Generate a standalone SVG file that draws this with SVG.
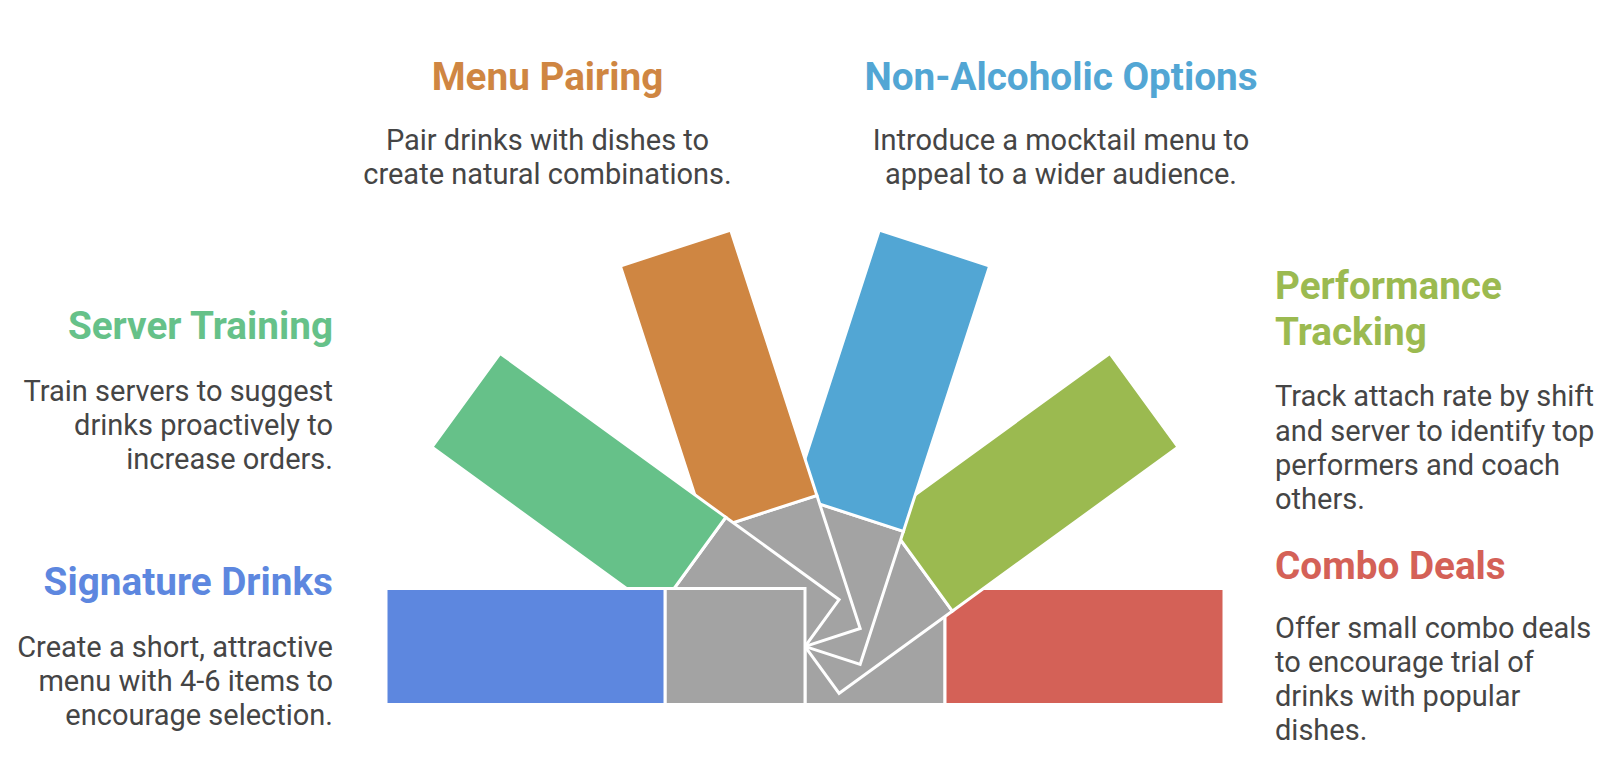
<svg xmlns="http://www.w3.org/2000/svg" width="1624" height="760" viewBox="0 0 1624 760">
<style>
.g{fill:#a3a3a3;stroke:#fff;stroke-width:3}
.c{stroke:#fff;stroke-width:3}
.t{font-family:Roboto,"Liberation Sans",sans-serif;font-weight:700;font-size:38.7px}
.b{font-family:Roboto,"Liberation Sans",sans-serif;font-size:29px;fill:#454545}
</style>
<rect width="1624" height="760" fill="#fff"/>
<g id="fan">
<g id="arm-combo" transform="translate(805,646.5) rotate(0)"><rect class="g" x="0" y="-58" width="140" height="116"/><rect class="c" x="140" y="-58" width="279" height="116" fill="#d46157"/></g>
<g id="arm-performance" transform="translate(805,646.5) rotate(-36)"><rect class="g" x="0" y="-58" width="140" height="116"/><rect class="c" x="140" y="-58" width="279" height="116" fill="#9bba50"/></g>
<g id="arm-nonalcoholic" transform="translate(805,646.5) rotate(-72)"><rect class="g" x="0" y="-58" width="140" height="116"/><rect class="c" x="140" y="-58" width="279" height="116" fill="#52a6d4"/></g>
<g id="arm-menu" transform="translate(805,646.5) rotate(-108)"><rect class="g" x="0" y="-58" width="140" height="116"/><rect class="c" x="140" y="-58" width="279" height="116" fill="#cf8642"/></g>
<g id="arm-server" transform="translate(805,646.5) rotate(-144)"><rect class="g" x="0" y="-58" width="140" height="116"/><rect class="c" x="140" y="-58" width="279" height="116" fill="#66c189"/></g>
<g id="arm-signature" transform="translate(805,646.5) rotate(-180)"><rect class="g" x="0" y="-58" width="140" height="116"/><rect class="c" x="140" y="-58" width="279" height="116" fill="#5d87df"/></g>
</g>
<g id="label-server" text-anchor="end">
<text class="t" x="333" y="339" fill="#66c189">Server Training</text>
<text class="b" x="333" y="401">Train servers to suggest</text>
<text class="b" x="333" y="435">drinks proactively to</text>
<text class="b" x="333" y="469">increase orders.</text>
</g>
<g id="label-signature" text-anchor="end">
<text class="t" x="333" y="595" fill="#5d87df">Signature Drinks</text>
<text class="b" x="333" y="657">Create a short, attractive</text>
<text class="b" x="333" y="691">menu with 4-6 items to</text>
<text class="b" x="333" y="725">encourage selection.</text>
</g>
<g id="label-menu" text-anchor="middle">
<text class="t" x="547.5" y="90" fill="#cf8642">Menu Pairing</text>
<text class="b" x="547.5" y="150">Pair drinks with dishes to</text>
<text class="b" x="547.5" y="184">create natural combinations.</text>
</g>
<g id="label-nonalcoholic" text-anchor="middle">
<text class="t" x="1061" y="90" fill="#52a6d4">Non-Alcoholic Options</text>
<text class="b" x="1061" y="150">Introduce a mocktail menu to</text>
<text class="b" x="1061" y="184">appeal to a wider audience.</text>
</g>
<g id="label-performance">
<text class="t" x="1275" y="299" fill="#9bba50">Performance</text>
<text class="t" x="1275" y="345" fill="#9bba50">Tracking</text>
<text class="b" x="1275" y="406">Track attach rate by shift</text>
<text class="b" x="1275" y="440.5">and server to identify top</text>
<text class="b" x="1275" y="475">performers and coach</text>
<text class="b" x="1275" y="509">others.</text>
</g>
<g id="label-combo">
<text class="t" x="1275" y="579" fill="#d46157">Combo Deals</text>
<text class="b" x="1275" y="638">Offer small combo deals</text>
<text class="b" x="1275" y="672">to encourage trial of</text>
<text class="b" x="1275" y="706">drinks with popular</text>
<text class="b" x="1275" y="740">dishes.</text>
</g>
</svg>
